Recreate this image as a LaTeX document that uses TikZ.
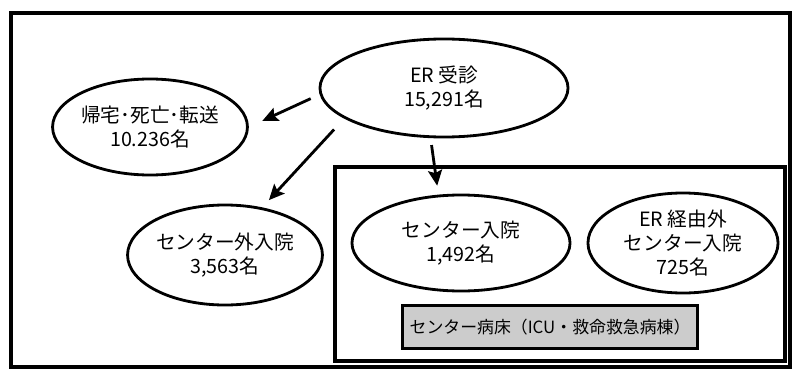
\documentclass[tikz,border=0pt]{standalone}
\usepackage{fontspec}
\setmainfont{Noto Sans CJK JP}
\usetikzlibrary{arrows.meta,shapes.geometric,positioning}

\tikzset{
  patient/.style={draw, ellipse, line width=2pt, inner sep=0pt, align=center, font=\fontsize{14}{17}\selectfont},
  wardbox/.style={draw, line width=2.2pt, fill=black!20, inner sep=0pt, font=\fontsize{12}{14}\selectfont},
  flow/.style={->, line width=2pt},
}

\begin{document}
\begin{tikzpicture}[x=0.025cm, y=-0.025cm, >={Stealth[length=11pt, width=10pt, inset=2pt]}]
        \useasboundingbox (0,0) rectangle (800,381);

        % Rahmen
        \draw[line width=2.4pt] (11,13) rectangle (790,367);
        \draw[line width=2.4pt] (335,167) rectangle (785,361);

        % Ellipsen
        \node[patient, minimum width=6.2cm, minimum height=2.45cm] (er) at (444,88) {ER 受診\\15,291名};
        \node[patient, minimum width=4.65cm, minimum height=2.4cm] (home) at (150,127) {帰宅･死亡･転送\\10.236名};
        \node[patient, minimum width=4.65cm, minimum height=2.5cm] (outside) at (225,255) {センター外入院\\3,563名};
        \node[patient, minimum width=5.45cm, minimum height=2.4cm] (center) at (461,243) {センター入院\\1,492名};
        \node[patient, minimum width=4.75cm, minimum height=2.5cm] (direct) at (683,243) {ER 経由外\\センター入院\\725名};

        % Bettenbereich
        \node[wardbox, minimum width=7.375cm, minimum height=1.075cm] (ward) at (550,327) {センター病床（ICU・救命救急病棟）};

        % Pfeile
        \draw[flow, shorten <=7pt, shorten >=10.6pt] (er.183) -- (home.0);
        \draw[flow, shorten <=10.6pt, shorten >=7pt] (er.197) -- (outside.52);
        \draw[flow, shorten <=5pt, shorten >=6.4pt] (er.255) -- (center.115);
    \end{tikzpicture}
\end{document}
